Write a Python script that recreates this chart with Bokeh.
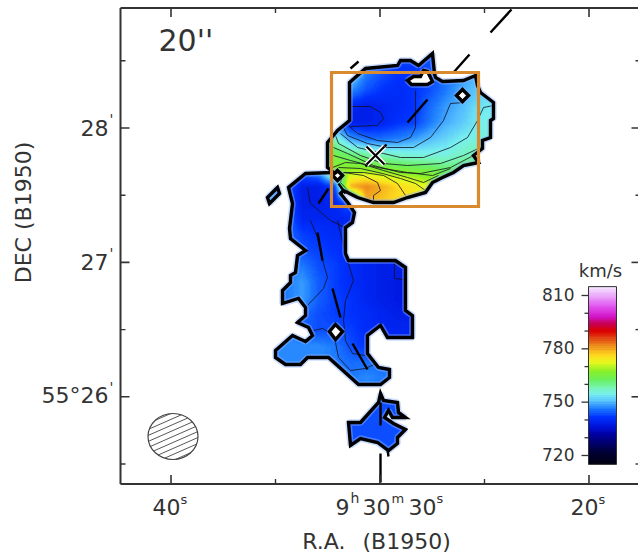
import numpy as np
from bokeh.embed import file_html
from bokeh.models import Label, LinearColorMapper, Range1d
from bokeh.plotting import figure
from bokeh.resources import INLINE

# ---- map-pixel calibration (WCS of the map)
def to_ra(px):
    return 40 - (np.asarray(px, dtype=float) - 170.5) / 20.9

def to_dec(py):
    return 28 - (np.asarray(py, dtype=float) - 127.5) / 134.4

# ---- ticks
ra_major = [40, 30, 20]
ra_minor = [35, 25]
dec_major = [28, 27, 26]
dec_minor = [28.5, 27.5, 26.5, 25.5]
cbar_major = [720, 750, 780, 810]
cbar_minor = [730, 740, 760, 770, 790, 800]

# ---- colour scale (km/s, r, g, b)
scale_v = [715, 722, 731, 736, 741, 746, 750, 754, 758, 762, 767, 772, 776, 781, 786, 790, 794, 798, 804, 810, 815]
scale_r = [0, 0, 0, 0, 0, 30, 85, 120, 120, 105, 135, 230, 255, 240, 225, 220, 200, 210, 225, 235, 245]
scale_g = [0, 0, 0, 20, 50, 125, 190, 240, 245, 240, 240, 250, 220, 150, 70, 0, 0, 20, 85, 170, 230]
scale_b = [20, 60, 160, 220, 255, 255, 255, 240, 180, 100, 40, 30, 30, 30, 20, 0, 80, 200, 240, 250, 255]

# ---- velocity field (km/s) on 16-pixel map cells, north row first; west = left
vel_rows = [
    [740, 740, 740, 740, 745, 752, 748, 744, 742, 742, 743, 745, 748, 750, 752],
    [740, 740, 740, 740, 750, 753, 746, 743, 741, 741, 743, 745, 748, 750, 752],
    [742, 740, 740, 742, 750, 747, 743, 741, 740, 741, 743, 746, 749, 751, 753],
    [742, 740, 740, 744, 745, 739, 738, 739, 740, 741, 745, 748, 750, 753, 754],
    [744, 742, 744, 748, 745, 738, 738, 739, 741, 742, 746, 749, 751, 754, 755],
    [746, 744, 748, 752, 757, 748, 745, 745, 746, 748, 750, 752, 754, 755, 756],
    [746, 744, 750, 760, 764, 761, 759, 757, 756, 755, 755, 755, 757, 759, 760],
    [746, 742, 745, 748, 767, 768, 768, 767, 766, 765, 764, 762, 762, 763, 764],
    [750, 744, 738, 738, 742, 779, 782, 779, 776, 774, 771, 765, 763, 763, 763],
    [750, 744, 738, 738, 739, 745, 779, 777, 776, 775, 773, 765, 763, 763, 763],
    [745, 745, 739, 739, 739, 739, 739, 739, 739, 739, 739, 739, 739, 739, 739],
    [745, 745, 742, 741, 740, 739, 739, 739, 739, 739, 739, 739, 739, 739, 739],
    [745, 745, 743, 742, 741, 740, 739, 739, 739, 739, 739, 739, 739, 739, 739],
    [746, 746, 746, 743, 742, 740, 739, 738, 738, 738, 738, 738, 738, 738, 738],
    [746, 746, 748, 744, 742, 740, 739, 738, 737, 737, 737, 737, 737, 737, 737],
    [746, 746, 748, 744, 742, 741, 739, 738, 737, 737, 737, 737, 737, 737, 737],
    [746, 746, 745, 743, 742, 741, 740, 739, 738, 738, 738, 738, 738, 738, 738],
    [747, 747, 744, 743, 743, 742, 740, 739, 739, 739, 739, 739, 739, 739, 739],
    [747, 747, 747, 747, 746, 743, 741, 740, 740, 740, 740, 740, 740, 740, 740],
    [747, 747, 747, 747, 746, 745, 745, 745, 745, 745, 745, 745, 745, 745, 745],
    [747, 747, 747, 747, 746, 746, 747, 746, 746, 746, 746, 746, 746, 746, 746],
    [745, 745, 745, 745, 745, 743, 743, 743, 743, 743, 743, 743, 743, 743, 743],
    [743, 743, 743, 743, 743, 743, 743, 743, 743, 743, 743, 743, 743, 743, 743],
    [743, 743, 743, 743, 743, 743, 743, 743, 743, 743, 743, 743, 743, 743, 743],
    [743, 743, 743, 743, 743, 743, 743, 743, 743, 743, 743, 743, 743, 743, 743],
    [743, 743, 743, 743, 743, 743, 743, 743, 743, 743, 743, 743, 743, 743, 743],
]

# ---- emission boundary, map pixels
main_outline = [
    (349, 82), (365, 68), (397, 65), (400, 60), (410, 60), (418, 65), (432, 53), (434, 73), (435, 77),
    (442, 81), (463, 80), (475, 75), (477, 85), (480, 92), (493, 102), (493, 118), (490, 120), (490, 137),
    (482, 140), (482, 148), (473, 155), (478, 162), (463, 165), (453, 172), (442, 177), (432, 182),
    (425, 192), (407, 197), (393, 202), (373, 202), (357, 197), (343, 190), (340, 193), (348, 203),
    (354, 212), (352, 222), (345, 227), (345, 253), (348, 260), (395, 260), (405, 267), (405, 310),
    (412, 315), (412, 337), (387, 337), (380, 325), (367, 335), (367, 353), (378, 367), (389, 369),
    (389, 377), (380, 384), (358, 384), (328, 357), (307, 357), (300, 364), (285, 364), (275, 357),
    (275, 350), (292, 335), (305, 341), (312, 335), (308, 327), (297, 322), (305, 315), (305, 307),
    (298, 298), (282, 303), (282, 290), (290, 282), (290, 275), (295, 272), (297, 255), (305, 250),
    (290, 238), (289, 228), (292, 203), (288, 187), (305, 173), (333, 172), (327, 167), (327, 142),
    (337, 130), (349, 120),
]
small_island = [(267, 197), (277, 187), (279, 193), (269, 203)]
south_island = [
    (380, 393), (383, 400), (397, 402), (398, 412), (405, 417), (392, 417), (388, 410), (384, 417),
    (393, 423), (405, 429), (397, 437), (397, 443), (388, 450), (377, 442), (360, 438), (350, 445),
    (348, 422), (360, 422), (378, 402),
]
blanks = [
    [(407, 80), (413, 76), (420, 76), (423, 70), (427, 71), (432, 81), (427, 84), (411, 84)],
    [(462, 89), (468, 95), (462, 101), (456, 95)],
    [(337, 170), (342, 175), (337, 180), (332, 175)],
    [(335, 324), (342, 331), (335, 339), (329, 331)],
]

# ---- isovelocity contours, map pixels
contours = [
    [(350, 106), (370, 106), (380, 112), (383, 118), (377, 125), (350, 126)],
    [(415, 90), (415, 127), (410, 137), (397, 142), (377, 140), (357, 133), (348, 125)],
    [(463, 102), (450, 103), (443, 120), (430, 137), (413, 147), (387, 147), (367, 143), (347, 135), (343, 127)],
    [(493, 105), (483, 107), (477, 120), (467, 137), (450, 147), (423, 157), (400, 157), (383, 153), (357, 147), (340, 133)],
    [(480, 147), (463, 155), (440, 163), (407, 165), (383, 163), (360, 155), (338, 143), (335, 135)],
    [(473, 155), (450, 167), (420, 173), (400, 172), (373, 165), (347, 153), (333, 147)],
    [(450, 168), (432, 175), (407, 172), (377, 167), (350, 160), (333, 155)],
    [(438, 175), (423, 182), (407, 177), (383, 170), (360, 163), (345, 162), (332, 167)],
    [(425, 190), (415, 183), (400, 178), (382, 173), (360, 168), (338, 167)],
    [(405, 195), (397, 183), (383, 175), (363, 172), (343, 172)],
    [(373, 202), (373, 195), (380, 190), (377, 182), (363, 175), (343, 172), (340, 182), (350, 193)],
    [(307, 187), (310, 203), (330, 220), (350, 230)],
    [(310, 220), (317, 237), (323, 263), (327, 277), (323, 288), (307, 305)],
    [(337, 220), (345, 253), (350, 270), (353, 280), (345, 300), (343, 320), (345, 340), (352, 353), (365, 355), (377, 365)],
    [(313, 330), (322, 328), (329, 332)],
    [(335, 342), (338, 357), (350, 370), (365, 368), (378, 362)],
    [(394, 260), (394, 278), (403, 279)],
]

# ---- dashed jet / slit strokes, map pixels
strokes = [
    ((490, 32), (511, 9)), ((453, 72), (469, 54)), ((407, 122), (427, 99)), ((365, 166), (386, 144)),
    ((318, 203), (328, 188)), ((350, 68), (358, 61)), ((317, 232), (322, 260)), ((332, 288), (340, 317)),
    ((352, 343), (367, 369)), ((380, 402), (380, 425)), ((380, 453), (380, 482)), ((338, 183), (345, 193)),
    ((387, 449), (388, 456)),
]
nucleus = (375, 155)
box_px = (331, 478, 72, 206)
beam_px = (172.5, 436, 25, 23)

# ---- figure: the frame fills the canvas; the map box is ruled inside it through the scales
W, H = 638, 555
BOX_L, BOX_R, BOX_T, BOX_B = 120, 640, 7.5, 483.5
p = figure(width=W, height=H, output_backend="svg", toolbar_location=None,
           x_range=Range1d(float(to_ra(0)), float(to_ra(W))),
           y_range=Range1d(float(to_dec(H)), float(to_dec(0))),
           x_axis_type=None, y_axis_type=None,
           min_border_left=0, min_border_right=0, min_border_top=0, min_border_bottom=0)
p.outline_line_color = None
p.grid.visible = False
p.background_fill_color = "white"
AX = "#333333"

# velocity image: the cells are resampled only for display, so they render soft as in the map
steps = np.linspace(715, 815, 256)
palette = ["#%02x%02x%02x" % (int(r), int(g), int(b)) for r, g, b in zip(
    np.interp(steps, scale_v, scale_r), np.interp(steps, scale_v, scale_g), np.interp(steps, scale_v, scale_b))]
mapper = LinearColorMapper(palette=palette, low=715, high=815)

def soften(cells, k=8):
    rows, cols = cells.shape
    xi = (np.arange(cols * k) + 0.5) / k - 0.5
    yi = (np.arange(rows * k) + 0.5) / k - 0.5
    tmp = np.array([np.interp(xi, np.arange(cols), r) for r in cells])
    return np.array([np.interp(yi, np.arange(rows), c) for c in tmp.T]).T

# Bokeh mirrors an image on a reversed x range, hence the fliplr
vel = np.fliplr(np.flipud(soften(np.array(vel_rows, dtype=float))))
X0, X1, Y0, Y1 = 262, 502, 50, 466
p.image(image=[vel], x=float(to_ra(X1)), y=float(to_dec(Y1)),
        dw=float(to_ra(X0) - to_ra(X1)), dh=float(to_dec(Y0) - to_dec(Y1)), color_mapper=mapper)

def xy(poly):
    a = np.array(poly, dtype=float)
    return to_ra(a[:, 0]).tolist(), to_dec(a[:, 1]).tolist()

# contours
cx, cy = zip(*[xy(c) for c in contours])
p.multi_line(list(cx), list(cy), line_color="#101020", line_width=0.8)

# white mask outside the emission
outer = xy([(-5, H + 5), (W + 5, H + 5), (W + 5, -5), (-5, -5)])
regions = [main_outline, small_island, south_island]
mx = [outer[0]] + [xy(r)[0] for r in regions]
my = [outer[1]] + [xy(r)[1] for r in regions]
p.multi_polygons(xs=[[mx]], ys=[[my]], fill_color="white", line_color=None)

# outlines
all_px = regions + blanks
ox, oy = zip(*[xy(r) for r in all_px])
ox, oy = list(ox), list(oy)
p.patches(ox, oy, fill_color=None, line_color="#8fb4ff", line_alpha=0.45, line_width=6.5)
p.patches([xy(b)[0] for b in blanks], [xy(b)[1] for b in blanks], fill_color="white", line_color=None)
p.patches(ox, oy, fill_color=None, line_color="black", line_width=3.4, line_join="miter")

# strokes
p.segment(to_ra([s[0][0] for s in strokes]), to_dec([s[0][1] for s in strokes]),
          to_ra([s[1][0] for s in strokes]), to_dec([s[1][1] for s in strokes]),
          line_color="black", line_width=2.4)

# nucleus cross
nx, ny = nucleus
arm = 9
for col, lw in [("white", 5), ("black", 2.2)]:
    p.segment(to_ra([nx - arm, nx - arm]), to_dec([ny - arm, ny + arm]),
              to_ra([nx + arm, nx + arm]), to_dec([ny + arm, ny - arm]), line_color=col, line_width=lw)

# orange box
l, r, t, b = box_px
p.quad(left=[float(to_ra(l))], right=[float(to_ra(r))], top=[float(to_dec(t))], bottom=[float(to_dec(b))],
       fill_color=None, line_color="#d98a2e", line_width=3.2, line_join="miter")

# beam
bx, by, brx, bry = beam_px
p.ellipse(x=[float(to_ra(bx))], y=[float(to_dec(by))], width=[2 * brx / 20.9], height=[2 * bry / 134.4],
          fill_color="white", line_color="#444444", line_width=1.2)
hatch_x0, hatch_y0, hatch_x1, hatch_y1 = [], [], [], []
slope = 0.44
for c in np.arange(-36, 37, 6.0):
    A = 1 / brx**2 + (slope / bry)**2
    B = 2 * slope * c / bry**2
    C = (c / bry)**2 - 1
    D = B * B - 4 * A * C
    if D <= 0:
        continue
    u0, u1 = (-B - np.sqrt(D)) / (2 * A), (-B + np.sqrt(D)) / (2 * A)
    hatch_x0.append(bx + u0); hatch_y0.append(by - (slope * u0 + c))
    hatch_x1.append(bx + u1); hatch_y1.append(by - (slope * u1 + c))
p.segment(to_ra(hatch_x0), to_dec(hatch_y0), to_ra(hatch_x1), to_dec(hatch_y1), line_color="#444444", line_width=0.9)

# map box: spines and inward ticks
xl, xr, yt, yb = [float(v) for v in (to_ra(BOX_L), to_ra(BOX_R), to_dec(BOX_T), to_dec(BOX_B))]
p.segment([xl, xl, xl], [yb, yb, yt], [xl, xr, xr], [yt, yb, yt], line_color=AX, line_width=2)
def vticks(vals, y0, n_px, lw):
    p.segment(vals, [y0] * len(vals), vals, [y0 + n_px / 134.4] * len(vals), line_color=AX, line_width=lw)
def hticks(vals, x0, n_px, lw):
    p.segment([x0] * len(vals), vals, [x0 - n_px / 20.9] * len(vals), vals, line_color=AX, line_width=lw)
vticks(ra_major, yb, 9, 1.6); vticks(ra_minor, yb, 5, 1.4)
vticks(ra_major, yt, -9, 1.6); vticks(ra_minor, yt, -5, 1.4)
hticks(dec_major, xl, 9, 1.6); hticks(dec_minor, xl, 5, 1.4)
hticks(dec_major, xr, -9, 1.6); hticks(dec_minor, xr, -5, 1.4)

# colour bar on its own velocity range
CB_L, CB_R = 588, 616
v_per_px = 90 / (455 - 295)
p.extra_y_ranges["cb"] = Range1d(720 - (H - 455) * v_per_px, 810 + 295 * v_per_px)
cb_vals = np.arange(715, 816, dtype=float).reshape(-1, 1)
p.image(image=[cb_vals], x=float(to_ra(CB_R)), y=715, dw=float(to_ra(CB_L) - to_ra(CB_R)), dh=100,
        color_mapper=mapper, y_range_name="cb")
p.quad(left=[float(to_ra(CB_L))], right=[float(to_ra(CB_R))], bottom=[715], top=[815], fill_color=None,
       line_color="#333333", line_width=1, y_range_name="cb")
p.segment([float(to_ra(CB_L))] * 4, cbar_major, [float(to_ra(CB_L - 7))] * 4, cbar_major,
          line_color=AX, line_width=1.3, y_range_name="cb")
p.segment([float(to_ra(CB_L))] * 6, cbar_minor, [float(to_ra(CB_L - 4))] * 6, cbar_minor,
          line_color=AX, line_width=1.3, y_range_name="cb")

# texts: the SVG label sits about 0.46 em under the baseline asked for, so that is taken off here
FONT = "DejaVu Sans"
DROP = 0.40
def lab(text, px, py, size, align="left", angle=0):
    if angle:
        px -= DROP * size
    else:
        py -= DROP * size
    p.add_layout(Label(x=px, y=H - py, x_units="screen", y_units="screen", text=text,
                       text_font=FONT, text_font_size=f"{size}px", text_color=AX, text_align=align,
                       text_baseline="alphabetic", angle=angle, angle_units="deg", level="overlay"))

# RA labels
lab("40", 180, 515, 22, "right"); lab("s", 180, 504, 13)
lab("20", 598, 515, 22, "right"); lab("s", 598, 504, 13)
lab("9", 342, 515, 22, "center"); lab("h", 350, 503, 14)
lab("30", 390, 515, 22, "right"); lab("m", 391, 503, 13)
lab("30", 436, 515, 22, "right"); lab("s", 436, 503, 13)
lab("R.A.", 345, 550, 22, "right"); lab("(B1950)", 362, 550, 22)

# Dec labels
lab("28", 108, 136, 22, "right"); lab("'", 109, 124, 14)
lab("27", 108, 270, 22, "right"); lab("'", 109, 258, 14)
lab("55\u00b026", 108, 404, 22, "right"); lab("'", 109, 392, 14)
lab("DEC (B1950)", 32, 212, 22, "center", 90)

lab("20''", 158, 52, 30)
lab("km/s", 600, 277, 18, "center")
for v, py in zip(cbar_major, [455, 401, 348, 295]):
    lab(str(v), 574, py + 6, 17, "right")

open("out.html", "w").write(file_html(p, INLINE))
